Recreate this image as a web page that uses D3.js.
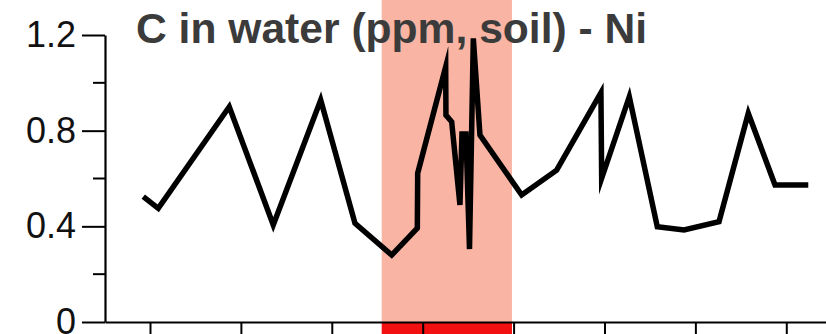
<!DOCTYPE html>
<html>
<head>
<meta charset="utf-8">
<script src="https://cdn.jsdelivr.net/npm/d3@7"></script>
<style>
    body { margin: 0; background: #fff; }
    svg { display: block; }
</style>
</head>
<body>
<div class="chart"></div>
<script>
// series (x in axis units, tick 0 = first tick)
const xValues = [-0.074, 0.091, 0.872, 1.356, 1.878, 2.255, 2.659, 2.941, 2.945, 3.253, 3.256, 3.319,
    3.410, 3.432, 3.476, 3.515, 3.557, 3.630, 4.089, 4.474, 4.961, 4.969, 5.273, 5.581, 5.875,
    6.260, 6.582, 6.876, 7.242];
const niValues = [0.524, 0.475, 0.900, 0.406, 0.928, 0.413, 0.280, 0.392, 0.622, 1.067, 0.865, 0.837,
    0.489, 0.786, 0.786, 0.305, 1.186, 0.782, 0.531, 0.635, 0.959, 0.601, 0.942, 0.398, 0.385,
    0.419, 0.873, 0.573, 0.573];
const band = [2.549, 3.982];
const xTicks = [0, 1, 2, 3, 4, 5, 6, 7];
const yMajorTicks = [0, 0.4, 0.8, 1.2];
const yMinorTicks = [0.2, 0.6, 1.0];
const title = "C in water (ppm, soil) - Ni";

document.addEventListener("DOMContentLoaded", function () {
    const width = 826, height = 334;
    const margin = { top: 35, left: 105, bottom: 12 };
    const plotBottom = height - margin.bottom;

    const svg = d3.select(".chart").append("svg")
        .attr("width", width)
        .attr("height", height);

    const x = d3.scaleLinear()
        .domain([-0.495, 7.437])
        .range([margin.left, width]);

    const y = d3.scaleLinear()
        .domain([0, 1.2])
        .range([plotBottom, margin.top]);

    // shaded interval
    svg.append("rect")
        .attr("x", x(band[0]))
        .attr("y", 0)
        .attr("width", x(band[1]) - x(band[0]))
        .attr("height", plotBottom)
        .attr("fill", "#f9b4a4");

    svg.append("rect")
        .attr("x", x(band[0]))
        .attr("y", plotBottom)
        .attr("width", x(band[1]) - x(band[0]))
        .attr("height", height - plotBottom)
        .attr("fill", "#f21010");

    // title
    svg.append("text")
        .attr("x", 136)
        .attr("y", 43)
        .attr("font-family", "Liberation Sans, Arial, sans-serif")
        .attr("font-weight", "bold")
        .attr("font-size", "42.6px")
        .attr("fill", "#3b3b3b")
        .text(title);

    // x axis (labels fall outside the picture)
    const xAxis = svg.append("g")
        .attr("transform", `translate(0,${plotBottom})`)
        .call(d3.axisBottom(x).tickValues(xTicks).tickSize(12).tickFormat("").tickSizeOuter(0));
    xAxis.select(".domain").attr("stroke", "#000").attr("stroke-width", 2.2);
    xAxis.selectAll(".tick line").attr("stroke", "#000").attr("stroke-width", 2);

    // y axis
    const yAxis = svg.append("g")
        .attr("transform", `translate(${margin.left},0)`)
        .call(d3.axisLeft(y).tickValues(yMajorTicks).tickSize(23).tickPadding(6)
            .tickFormat(d => d === 0 ? "0" : d3.format(".1f")(d)).tickSizeOuter(0));
    yAxis.select(".domain").attr("stroke", "#000").attr("stroke-width", 2.2);
    yAxis.selectAll(".tick line").attr("stroke", "#000").attr("stroke-width", 2);
    yAxis.selectAll(".tick text")
        .attr("font-family", "Liberation Sans, Arial, sans-serif")
        .attr("font-size", "36px")
        .attr("fill", "#111");

    yAxis.selectAll(".minor")
        .data(yMinorTicks)
        .enter().append("line")
        .attr("x1", -12)
        .attr("x2", 0)
        .attr("y1", d => y(d))
        .attr("y2", d => y(d))
        .attr("stroke", "#000")
        .attr("stroke-width", 2);

    // Ni series
    const points = xValues.map((v, i) => ({ x: v, y: niValues[i] }));
    const line = d3.line()
        .x(d => x(d.x))
        .y(d => y(d.y));

    svg.append("path")
        .datum(points)
        .attr("fill", "none")
        .attr("stroke", "#000")
        .attr("stroke-width", 5.5)
        .attr("stroke-linejoin", "miter")
        .attr("stroke-miterlimit", 10)
        .attr("d", line);
});
</script>
</body>
</html>
